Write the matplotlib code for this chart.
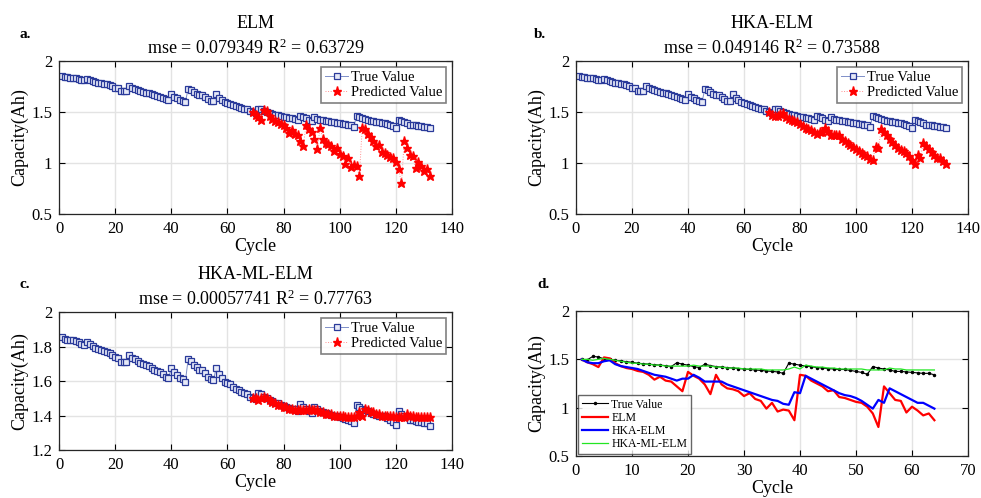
import numpy as np
import matplotlib
matplotlib.use("Agg")
import matplotlib.pyplot as plt

plt.rcParams["font.family"] = ["Liberation Serif", "DejaVu Serif"]
plt.rcParams["mathtext.fontset"] = "custom"
plt.rcParams["mathtext.rm"] = "Liberation Serif"
plt.rcParams["mathtext.it"] = "Liberation Serif:italic"
plt.rcParams["font.size"] = 12

# measured capacity, cycles 1..132
true_cap = [
    1.855, 1.845, 1.840, 1.835, 1.835, 1.830, 1.825, 1.815, 1.810, 1.825,
    1.815, 1.805, 1.790, 1.785, 1.780, 1.775, 1.770, 1.760, 1.750, 1.740,
    1.735, 1.710, 1.710, 1.710, 1.750, 1.735, 1.725, 1.715, 1.705, 1.700,
    1.690, 1.685, 1.675, 1.665, 1.660, 1.650, 1.640, 1.625, 1.615, 1.675,
    1.650, 1.635, 1.620, 1.610, 1.595, 1.725, 1.715, 1.695, 1.680, 1.665,
    1.665, 1.645, 1.625, 1.610, 1.605, 1.675, 1.640, 1.615, 1.595, 1.590,
    1.580, 1.565, 1.555, 1.545, 1.535, 1.530, 1.525, 1.505, 1.500, 1.495,
    1.530, 1.525, 1.505, 1.500, 1.490, 1.485, 1.475, 1.470, 1.460, 1.455,
    1.450, 1.445, 1.440, 1.435, 1.425, 1.465, 1.450, 1.440, 1.425, 1.415,
    1.450, 1.435, 1.425, 1.420, 1.415, 1.410, 1.405, 1.400, 1.395, 1.390,
    1.385, 1.380, 1.375, 1.370, 1.355, 1.460, 1.450, 1.440, 1.430, 1.425,
    1.415, 1.410, 1.405, 1.400, 1.395, 1.395, 1.385, 1.375, 1.365, 1.345,
    1.425, 1.410, 1.400, 1.390, 1.375, 1.375, 1.370, 1.365, 1.360, 1.355,
    1.355, 1.340,
]
cycles = np.arange(1, len(true_cap) + 1)
pred_start = 69  # predictions cover cycles 69..132

pred_elm = [
    1.50, 1.47, 1.45, 1.42, 1.52, 1.51, 1.46, 1.43, 1.41, 1.40,
    1.38, 1.37, 1.34, 1.29, 1.32, 1.28, 1.27, 1.22, 1.17, 1.37,
    1.33, 1.30, 1.24, 1.14, 1.34, 1.24, 1.20, 1.19, 1.17, 1.12,
    1.15, 1.09, 1.07, 0.99, 1.05, 0.96, 0.98, 0.97, 0.87, 1.34,
    1.33, 1.28, 1.25, 1.22, 1.17, 1.18, 1.11, 1.10, 1.08, 1.06,
    1.05, 1.01, 0.94, 0.80, 1.22, 1.15, 1.08, 1.07, 0.95, 1.01,
    0.97, 0.92, 0.94, 0.87,
]
pred_hka = [
    1.50, 1.47, 1.46, 1.46, 1.48, 1.49, 1.45, 1.43, 1.42, 1.41,
    1.40, 1.38, 1.36, 1.34, 1.33, 1.32, 1.30, 1.28, 1.30, 1.30,
    1.34, 1.31, 1.27, 1.27, 1.27, 1.27, 1.24, 1.22, 1.20, 1.18,
    1.16, 1.14, 1.12, 1.10, 1.08, 1.07, 1.04, 1.03, 1.16, 1.15,
    1.33, 1.30, 1.27, 1.24, 1.21, 1.18, 1.15, 1.13, 1.12, 1.10,
    1.07, 1.03, 0.99, 1.08, 1.05, 1.20, 1.17, 1.14, 1.11, 1.08,
    1.05, 1.05, 1.02, 0.99,
]
pred_ml = [
    1.50, 1.50, 1.49, 1.50, 1.51, 1.50, 1.49, 1.48, 1.47, 1.46,
    1.46, 1.45, 1.45, 1.44, 1.44, 1.43, 1.43, 1.43, 1.43, 1.43,
    1.44, 1.43, 1.43, 1.43, 1.42, 1.42, 1.41, 1.41, 1.41, 1.40,
    1.40, 1.40, 1.40, 1.39, 1.39, 1.39, 1.39, 1.40, 1.42, 1.40,
    1.44, 1.43, 1.42, 1.42, 1.41, 1.41, 1.40, 1.40, 1.40, 1.40,
    1.40, 1.39, 1.39, 1.39, 1.39, 1.41, 1.40, 1.40, 1.39, 1.39,
    1.39, 1.39, 1.39, 1.39,
]
pred_cycles = np.arange(pred_start, pred_start + len(pred_elm))

model_names = ["ELM", "HKA-ELM", "HKA-ML-ELM"]
mse_text = ["0.079349", "0.049146", "0.00057741"]
r2_text = ["0.63729", "0.73588", "0.77763"]
panel_letters = ["a.", "b.", "c.", "d."]

W, H = 981, 498
fig = plt.figure(figsize=(W / 100, H / 100), dpi=100)


def px_axes(l, t, r, b):
    return fig.add_axes([l / W, 1 - b / H, (r - l) / W, (b - t) / H])


def style(ax):
    ax.grid(True, color="#e3e3e3", linewidth=1.0)
    ax.set_axisbelow(True)
    ax.tick_params(direction="in", top=True, right=True, length=4,
                   width=0.8, labelsize=12, pad=5)
    for s in ax.spines.values():
        s.set_linewidth(0.9)
        s.set_color("#262626")


boxes = [(59, 61, 452, 214), (576, 61, 968, 214), (59, 312, 452, 450)]
for i, preds in enumerate([pred_elm, pred_hka, pred_ml]):
    ax = px_axes(*boxes[i])
    style(ax)
    ax.plot(cycles, true_cap, "-s", color="#7f8fc8", linewidth=0.7,
            markersize=3.8, markeredgecolor="#2a3a9a", markerfacecolor="#e6e9f7",
            markeredgewidth=0.9, label="True Value")
    ax.plot(pred_cycles, preds, ":*", color="#ff9090", linewidth=0.7,
            markersize=6.5, markeredgecolor="red", markerfacecolor="red",
            label="Predicted Value")
    ax.set_xlim(0, 140)
    ax.set_xticks(np.arange(0, 141, 20))
    if i < 2:
        ax.set_ylim(0.5, 2)
        ax.set_yticks([0.5, 1, 1.5, 2])
        ax.set_yticklabels(["0.5", "1", "1.5", "2"])
    else:
        ax.set_ylim(1.2, 2)
        ax.set_yticks([1.2, 1.4, 1.6, 1.8, 2])
        ax.set_yticklabels(["1.2", "1.4", "1.6", "1.8", "2"])
    ax.set_xlabel("Cycle", fontsize=13, labelpad=1)
    ax.set_ylabel("Capacity(Ah)", fontsize=13, labelpad=2)
    ax.set_title(f"{model_names[i]}\nmse = {mse_text[i]} R$^2$ = {r2_text[i]}",
                 fontsize=13, pad=5, linespacing=1.4)
    leg = ax.legend(loc="upper right", fontsize=10.5, fancybox=False,
                    borderpad=0.25, handlelength=1.6, handletextpad=0.2,
                    labelspacing=0.15, borderaxespad=0.4)
    leg.get_frame().set_edgecolor("#606060")
    leg.get_frame().set_linewidth(1.2)

# panel d: all models on the prediction window
axd = px_axes(576, 311, 968, 456)
style(axd)
idx = np.arange(1, len(pred_elm) + 1)
axd.plot(idx, true_cap[pred_start - 1:], ".-", color="black", linewidth=0.8,
         markersize=3, label="True Value")
axd.plot(idx, pred_elm, color="red", linewidth=1.6, label="ELM")
axd.plot(idx, pred_hka, color="blue", linewidth=1.6, label="HKA-ELM")
axd.plot(idx, pred_ml, color="#22e622", linewidth=0.9, label="HKA-ML-ELM")
axd.set_xlim(0, 70)
axd.set_xticks(np.arange(0, 71, 10))
axd.set_ylim(0.5, 2)
axd.set_yticks([0.5, 1, 1.5, 2])
axd.set_yticklabels(["0.5", "1", "1.5", "2"])
axd.set_xlabel("Cycle", fontsize=13, labelpad=1)
axd.set_ylabel("Capacity(Ah)", fontsize=13, labelpad=2)
leg = axd.legend(loc="lower left", fontsize=8.5, fancybox=False,
                 borderpad=0.3, handlelength=2.2, handletextpad=0.3,
                 labelspacing=0.1, borderaxespad=0.2)
leg.get_frame().set_edgecolor("#404040")
leg.get_frame().set_linewidth(1.0)

# panel letters
for (x, y), letter in zip([(20, 35), (534, 35), (20, 284), (537, 284)], panel_letters):
    fig.text(x / W, 1 - y / H, letter, fontsize=11, fontweight="bold",
             ha="left", va="center")

fig.savefig("out.png", dpi=100)
